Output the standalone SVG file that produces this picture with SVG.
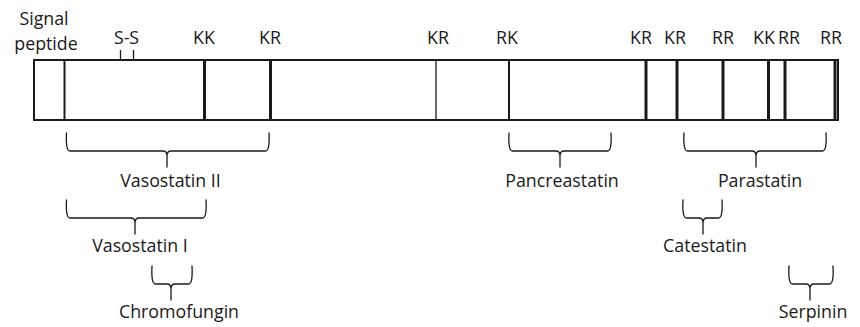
<svg xmlns="http://www.w3.org/2000/svg" width="860" height="327" viewBox="0 0 860 327">
<style>
text{font-family:"Open Sans","Noto Sans","DejaVu Sans",sans-serif;font-size:17.8px;fill:#1a1a1a;text-anchor:middle}
.bar{fill:#fff;stroke:#1a1a1a;stroke-width:2}
.div{stroke:#1a1a1a;fill:none}
.thin{stroke-width:1.3}
.med{stroke-width:2}
.thick{stroke-width:3}
.brace{fill:none;stroke:#1a1a1a;stroke-width:1.3;stroke-linecap:round;stroke-linejoin:round}
</style>
<rect width="860" height="327" fill="#fff"/>
<g id="protein">
<rect class="bar" x="34" y="60" width="804" height="60"/>
<line class="div med" x1="64.5" y1="60" x2="64.5" y2="120"/>
<line class="div thick" x1="204.5" y1="60" x2="204.5" y2="121"/>
<line class="div thick" x1="270.5" y1="60" x2="270.5" y2="121"/>
<line class="div thin" x1="436" y1="60" x2="436" y2="120"/>
<line class="div med" x1="509" y1="60" x2="509" y2="120"/>
<line class="div thick" x1="646" y1="60" x2="646" y2="121"/>
<line class="div thick" x1="677" y1="60" x2="677" y2="121"/>
<line class="div thick" x1="723" y1="60" x2="723" y2="121"/>
<line class="div thick" x1="768.5" y1="60" x2="768.5" y2="121"/>
<line class="div thick" x1="785" y1="60" x2="785" y2="121"/>
<line class="div thick" x1="835" y1="60" x2="835" y2="121"/>
<line class="div thin" x1="120.5" y1="50" x2="120.5" y2="60"/>
<line class="div thin" x1="133.5" y1="50" x2="133.5" y2="60"/>
</g>
<g id="site-labels">
<text x="44" y="25">Signal</text>
<text x="46" y="49.5">peptide</text>
<text x="126.5" y="43.5">S-S</text>
<text x="204" y="43.5">KK</text>
<text x="270" y="43.5">KR</text>
<text x="438" y="43.5">KR</text>
<text x="507" y="43.5">RK</text>
<text x="641" y="43.5">KR</text>
<text x="675" y="43.5">KR</text>
<text x="723" y="43.5">RR</text>
<text x="764" y="43.5">KK</text>
<text x="789" y="43.5">RR</text>
<text x="831" y="43.5">RR</text>
</g>
<g id="connectors">
<path class="brace" d="M66.5,133 Q65.5,151 70,151 H163 Q167,151 167,156 V167 M269,133 Q270,151 265.5,151 H171 Q167,151 167,156"/>
<path class="brace" d="M66.5,200 Q65.5,218 70,218 H131 Q135,218 135,223 V234 M206,200 Q207,218 202.5,218 H139 Q135,218 135,223"/>
<path class="brace" d="M152,266 Q151,284 155.5,284 H167 Q171,284 171,289 V300 M192,266 Q193,284 188.5,284 H175 Q171,284 171,289"/>
<path class="brace" d="M509,133 Q508,151 512.5,151 H556 Q560,151 560,156 V167 M611,133 Q612,151 607.5,151 H564 Q560,151 560,156"/>
<path class="brace" d="M684,133 Q683,151 687.5,151 H752 Q756,151 756,156 V167 M826,133 Q827,151 822.5,151 H760 Q756,151 756,156"/>
<path class="brace" d="M683,200 Q682,218 686.5,218 H699 Q703,218 703,223 V234 M722,200 Q723,218 718.5,218 H707 Q703,218 703,223"/>
<path class="brace" d="M789,266 Q788,284 792.5,284 H806 Q810,284 810,289 V300 M833,266 Q834,284 829.5,284 H814 Q810,284 810,289"/>
</g>
<g id="Vasostatin-II"><text x="170.5" y="187">Vasostatin II</text></g>
<g id="Vasostatin-I"><text x="140" y="252">Vasostatin I</text></g>
<g id="Chromofungin"><text x="179" y="318">Chromofungin</text></g>
<g id="Pancreastatin"><text x="562" y="187">Pancreastatin</text></g>
<g id="Parastatin"><text x="760" y="187">Parastatin</text></g>
<g id="Catestatin"><text x="705" y="252">Catestatin</text></g>
<g id="Serpinin"><text x="813" y="318">Serpinin</text></g>
</svg>
